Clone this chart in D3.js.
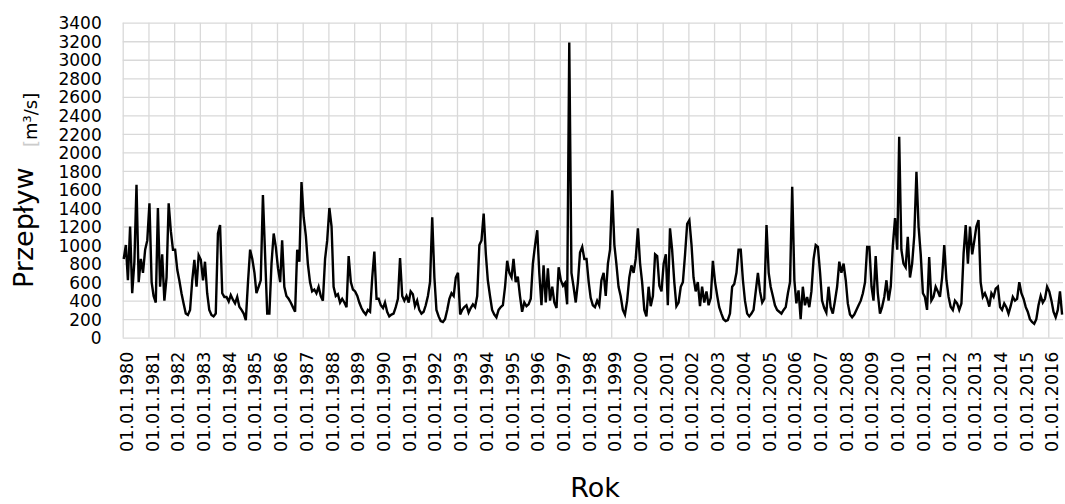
<!DOCTYPE html>
<html>
<head>
<meta charset="utf-8">
<script src="https://cdn.jsdelivr.net/npm/d3@7"></script>
<style>
body { margin: 0; background: #fff; }
text { font-family: 'DejaVu Sans', sans-serif; fill: #000; }
.grid line { stroke: #d9d9d9; stroke-width: 1.3; }
.grid path { display: none; }
</style>
</head>
<body>
<svg id="chart" width="1065" height="504"></svg>
<script>
// monthly mean flow [m3/s], jan..dec for each year
var startYear = 1980;
var flow = [
	850, 1000, 620, 1200, 480, 820, 1650, 600, 850, 700, 950, 1050,      // 1980
	1450, 600, 450, 380, 1400, 550, 900, 400, 650, 1450, 1150, 950,      // 1981
	950, 730, 620, 480, 370, 260, 245, 300, 620, 840, 550, 890,          // 1982
	840, 620, 820, 480, 300, 245, 230, 260, 1125, 1215, 480, 440,        // 1983
	440, 390, 460, 410, 370, 440, 335, 300, 260, 190, 600, 950,          // 1984
	850, 700, 480, 550, 620, 1540, 910, 260, 260, 800, 1125, 980,        // 1985
	750, 600, 1050, 550, 450, 420, 380, 330, 280, 950, 820, 1680,        // 1986
	1300, 1100, 800, 600, 500, 520, 480, 550, 450, 400, 850, 1050,       // 1987
	1400, 1200, 550, 450, 470, 380, 420, 380, 330, 880, 600, 520,        // 1988
	500, 450, 380, 320, 280, 250, 300, 280, 650, 930, 420, 420,          // 1989
	350, 320, 380, 280, 230, 250, 260, 330, 420, 860, 450, 400,          // 1990
	450, 380, 500, 470, 340, 400, 300, 260, 280, 350, 450, 600,          // 1991
	1300, 650, 300, 230, 180, 170, 200, 300, 420, 480, 450, 650,         // 1992
	700, 250, 300, 330, 350, 270, 320, 360, 330, 450, 1000, 1050,        // 1993
	1340, 900, 620, 450, 300, 250, 220, 300, 330, 350, 550, 830,         // 1994
	700, 650, 850, 600, 660, 450, 280, 380, 340, 360, 420, 800,          // 1995
	1000, 1160, 700, 350, 780, 380, 750, 400, 550, 380, 320, 760,        // 1996
	620, 560, 590, 360, 3185, 700, 550, 380, 600, 920, 980, 850,         // 1997
	850, 600, 430, 350, 330, 400, 350, 620, 700, 450, 800, 950,          // 1998
	1590, 1000, 800, 550, 450, 300, 250, 400, 650, 780, 700, 850,        // 1999
	1180, 800, 600, 300, 230, 550, 340, 450, 900, 880, 560, 500,         // 2000
	800, 900, 350, 1180, 950, 600, 340, 380, 550, 600, 900, 1230,        // 2001
	1270, 1000, 650, 500, 600, 340, 550, 380, 500, 350, 430, 830,        // 2002
	600, 450, 330, 260, 200, 180, 190, 260, 550, 580, 700, 950,          // 2003
	950, 620, 400, 260, 230, 260, 300, 500, 700, 500, 380, 420,          // 2004
	1215, 700, 550, 450, 350, 300, 280, 260, 300, 330, 480, 600,         // 2005
	1630, 620, 370, 510, 200, 550, 350, 440, 330, 500, 850, 1000,        // 2006
	980, 700, 400, 320, 270, 550, 330, 260, 400, 550, 820, 700,          // 2007
	800, 620, 370, 250, 220, 250, 300, 350, 400, 480, 600, 980,          // 2008
	980, 550, 400, 880, 480, 260, 330, 440, 620, 400, 550, 1000,         // 2009
	1290, 950, 2170, 950, 800, 760, 1090, 650, 800, 1100, 1790, 1200,    // 2010
	900, 480, 440, 300, 870, 400, 440, 550, 500, 440, 650, 1000,         // 2011
	620, 440, 335, 300, 400, 370, 300, 370, 910, 1215, 800, 1200,        // 2012
	900, 1050, 1200, 1270, 600, 440, 480, 420, 335, 480, 440, 530,       // 2013
	550, 330, 300, 370, 330, 260, 340, 440, 400, 420, 600, 480,          // 2014
	420, 330, 280, 200, 170, 150, 200, 350, 450, 380, 420, 550,          // 2015
	500, 400, 280, 220, 300, 500, 250                                    // 2016
];
var yTicks = [0, 200, 400, 600, 800, 1000, 1200, 1400, 1600, 1800, 2000, 2200, 2400, 2600, 2800, 3000, 3200, 3400];
var tickYears = d3.range(1980, 2017);
var yTitle = 'Przepływ';
var yUnit = 'm³/s';
var xTitle = 'Rok';

var svg = d3.select('#chart');

var plotL = 122.7, plotR = 1063, plotT = 22.7, plotB = 337.7;

var coords = flow.map((v, i) => [new Date(startYear, i, 15), v]);

var xscale = d3.scaleTime()
	.domain([new Date(1980, 0, 1), new Date(2016, 6, 28)])
	.range([plotL, plotR]);

var yscale = d3.scaleLinear()
	.domain([0, 3400])
	.range([plotB, plotT]);

// horizontal grid + labels
var yaxis = d3.axisLeft(yscale)
	.tickValues(yTicks)
	.tickSize(-(plotR - plotL))
	.tickPadding(21)
	.tickFormat(d3.format('d'));

var gy = svg.append('g')
	.attr('class', 'grid')
	.attr('transform', 'translate(' + plotL + ',0)')
	.call(yaxis);
gy.selectAll('text')
	.style('font-size', '17px')
	.attr('dy', '0.36em');

// vertical grid at each 01.01
var xaxis = d3.axisBottom(xscale)
	.tickValues(tickYears.map(y => new Date(y, 0, 1)))
	.tickSize(-(plotB - plotT))
	.tickFormat(d => '01.01.' + d.getFullYear());

var gx = svg.append('g')
	.attr('class', 'grid')
	.attr('transform', 'translate(0,' + plotB + ')')
	.call(xaxis);
gx.selectAll('text')
	.style('font-size', '17.5px')
	.attr('text-anchor', 'end')
	.attr('transform', 'translate(3.5,14) rotate(-90)')
	.attr('x', 0)
	.attr('y', 0)
	.attr('dy', '0.35em');

var line = d3.line()
	.x(d => xscale(d[0]))
	.y(d => yscale(d[1]));

svg.append('path')
	.datum(coords)
	.attr('d', line)
	.attr('fill', 'none')
	.attr('stroke', '#000')
	.attr('stroke-width', 2.4)
	.attr('stroke-linejoin', 'miter');

// axis titles
svg.append('text')
	.attr('transform', 'translate(33,288) rotate(-90)')
	.style('font-size', '27px')
	.text(yTitle);

var unit = svg.append('text')
	.attr('transform', 'translate(37,147) rotate(-90)')
	.style('font-size', '18px');
unit.append('tspan').style('fill', '#ccc').text('[');
unit.append('tspan').text(yUnit + ']');

svg.append('text')
	.attr('x', 595)
	.attr('y', 497)
	.attr('text-anchor', 'middle')
	.style('font-size', '27px')
	.text(xTitle);
</script>
</body>
</html>
